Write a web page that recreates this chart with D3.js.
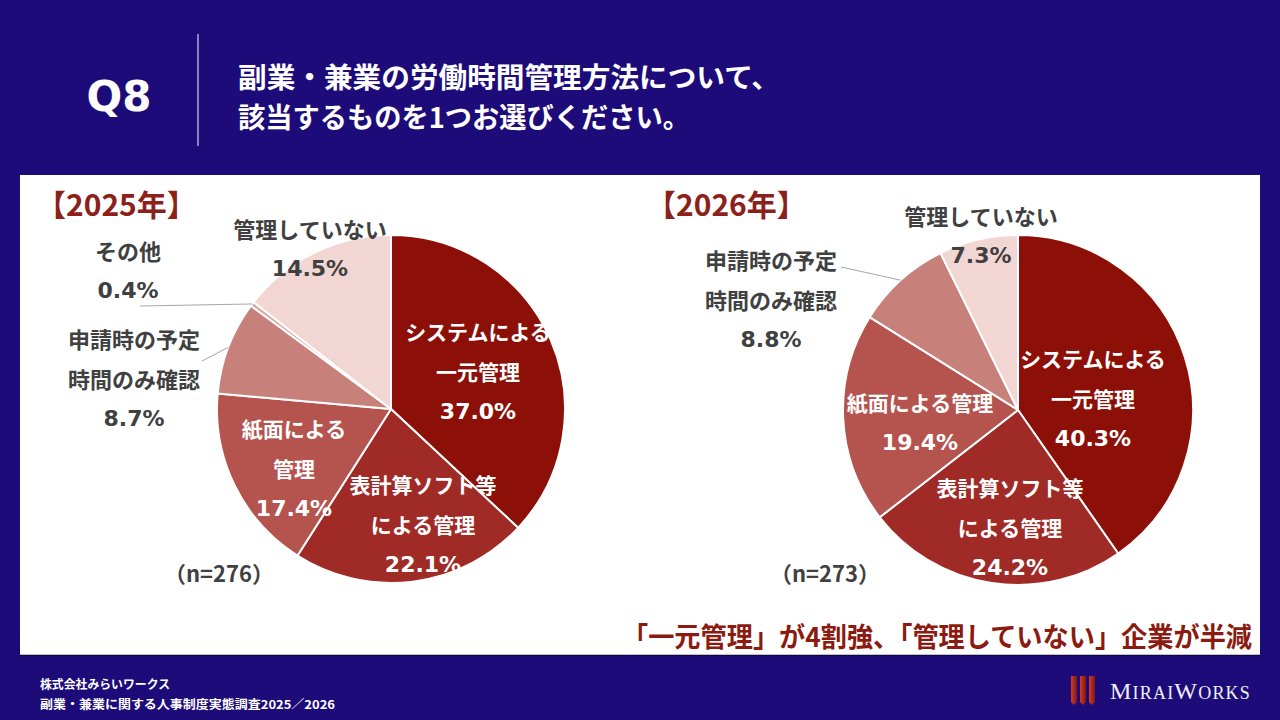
<!DOCTYPE html>
<html lang="ja">
<head>
<meta charset="utf-8">
<script src="https://cdn.jsdelivr.net/npm/d3@7"></script>
<style>
  html, body { margin: 0; padding: 0; background: #1d0b79; }
  svg { display: block; font-family: "Noto Sans CJK JP", "Noto Sans", sans-serif; }
</style>
</head>
<body>
<svg id="chart" width="1280" height="720"></svg>
<script>
// --- data ---
var categories2025 = ["システムによる一元管理", "表計算ソフト等による管理", "紙面による管理",
                      "申請時の予定時間のみ確認", "その他", "管理していない"];
var values2025 = [37.0, 22.1, 17.4, 8.7, 0.4, 14.5];

var categories2026 = ["システムによる一元管理", "表計算ソフト等による管理", "紙面による管理",
                      "申請時の予定時間のみ確認", "管理していない"];
var values2026 = [40.3, 24.2, 19.4, 8.8, 7.3];

var sampleSizes = ["(n=276)", "(n=273)"];
var years = ["【2025年】", "【2026年】"];

// label text, split in lines as on the slide
var labelLines2025 = [["システムによる", "一元管理"], ["表計算ソフト等", "による管理"], ["紙面による", "管理"],
                      ["申請時の予定", "時間のみ確認"], ["その他"], ["管理していない"]];
var labelLines2026 = [["システムによる", "一元管理"], ["表計算ソフト等", "による管理"], ["紙面による管理"],
                      ["申請時の予定", "時間のみ確認"], ["管理していない"]];

var sliceColors = {
  "システムによる一元管理": "#8c1007",
  "表計算ソフト等による管理": "#a02a26",
  "紙面による管理": "#b5544f",
  "申請時の予定時間のみ確認": "#c8807b",
  "その他": "#d8a5a2",
  "管理していない": "#f1d6d4"
};

// label placement relative to pie centre (first line centre), leader line ends
var layout2025 = {
  "システムによる一元管理": { dx: 87, dy: -78, inside: true },
  "表計算ソフト等による管理": { dx: 32, dy: 75, inside: true },
  "紙面による管理": { dx: -97, dy: 19, inside: true },
  "申請時の予定時間のみ確認": { dx: -257, dy: -71, lead: [-189, -48] },
  "その他": { dx: -263, dy: -159, lead: [-251, -103] },
  "管理していない": { dx: -81, dy: -181 }
};
var layout2026 = {
  "システムによる一元管理": { dx: 75, dy: -52, inside: true },
  "表計算ソフト等による管理": { dx: -8, dy: 77, inside: true },
  "紙面による管理": { dx: -98, dy: -8, inside: true },
  "申請時の予定時間のみ確認": { dx: -247, dy: -151, lead: [-177, -143] },
  "管理していない": { dx: -37, dy: -195 }
};

var svg = d3.select("#chart");
var W = 1280, H = 720;
var numFont = "'DejaVu Sans', 'Noto Sans CJK JP', sans-serif";

svg.append("rect").attr("width", W).attr("height", H).attr("fill", "#1d0b79");

// header
svg.append("text").attr("x", 119).attr("y", 96)
  .attr("text-anchor", "middle").attr("dominant-baseline", "central")
  .attr("fill", "#fff").attr("font-size", 42).attr("font-weight", 700)
  .attr("font-family", numFont)
  .text("Q8");
svg.append("line").attr("x1", 198).attr("x2", 198).attr("y1", 34).attr("y2", 146)
  .attr("stroke", "#8a80c4").attr("stroke-width", 2);
var title = ["副業・兼業の労働時間管理方法について、", "該当するものを1つお選びください。"];
var titleWidths = [542, 452];
svg.selectAll(".title").data(title).enter().append("text")
  .attr("class", "title")
  .attr("x", 238).attr("y", function(d, i) { return 76 + i * 40; })
  .attr("dominant-baseline", "central")
  .attr("fill", "#fff").attr("font-size", 28).attr("font-weight", 700)
  .attr("textLength", function(d, i) { return titleWidths[i]; })
  .attr("lengthAdjust", "spacingAndGlyphs")
  .text(function(d) { return d; });

// white panel
svg.append("rect").attr("x", 20).attr("y", 175).attr("width", 1240).attr("height", 480)
  .attr("fill", "#fff");
svg.append("line").attr("x1", 20).attr("x2", 1260).attr("y1", 655.5).attr("y2", 655.5)
  .attr("stroke", "#0d0640").attr("stroke-width", 1.5);

function drawPie(cx, cy, r, cats, vals, lines, layout, year, yearX, nText, nX) {
  var g = svg.append("g").attr("transform", "translate(" + cx + "," + cy + ")");
  var data = cats.map(function(c, i) { return { cat: c, value: vals[i], lines: lines[i] }; });
  var pie = d3.pie().sort(null).value(function(d) { return d.value; });
  var arc = d3.arc().innerRadius(0).outerRadius(r);
  var edge = d3.arc().innerRadius(r).outerRadius(r);
  var arcs = pie(data);

  g.selectAll("path.slice").data(arcs).enter().append("path")
    .attr("class", "slice")
    .attr("d", arc)
    .attr("fill", function(d) { return sliceColors[d.data.cat]; })
    .attr("stroke", "#fff").attr("stroke-width", 2).attr("stroke-linejoin", "round");

  // leader lines
  g.selectAll("line.lead").data(arcs.filter(function(d) { return layout[d.data.cat].lead; }))
    .enter().append("line")
    .attr("class", "lead")
    .attr("x1", function(d) { return edge.centroid(d)[0]; })
    .attr("y1", function(d) { return edge.centroid(d)[1]; })
    .attr("x2", function(d) { return layout[d.data.cat].lead[0]; })
    .attr("y2", function(d) { return layout[d.data.cat].lead[1]; })
    .attr("stroke", "#a6a6a6").attr("stroke-width", 1);

  var lbl = g.selectAll("g.lbl").data(arcs).enter().append("g")
    .attr("class", "lbl")
    .attr("transform", function(d) {
      var p = layout[d.data.cat];
      return "translate(" + p.dx + "," + p.dy + ")";
    });
  lbl.each(function(d) {
    var p = layout[d.data.cat];
    var rows = d.data.lines.concat([d3.format(".1f")(d.data.value) + "%"]);
    var last = rows.length - 1;
    d3.select(this).selectAll("text").data(rows).enter().append("text")
      .attr("x", 0).attr("y", function(t, i) { return i * 40; })
      .attr("text-anchor", "middle").attr("dominant-baseline", "central")
      .attr("fill", p.inside ? "#fff" : "#404040")
      .attr("font-family", function(t, i) { return i === last ? numFont : null; })
      .attr("font-size", function(t, i) { return i === last ? 22 : (p.inside ? 21 : 22); })
      .attr("font-weight", 700)
      .text(function(t) { return t; });
  });

  svg.append("text").attr("x", yearX).attr("y", 203)
    .attr("dominant-baseline", "central")
    .attr("fill", "#8b2119").attr("font-size", 30).attr("font-weight", 700)
    .text(year);
  svg.append("text").attr("x", nX).attr("y", 572)
    .attr("text-anchor", "middle").attr("dominant-baseline", "central")
    .attr("fill", "#404040").attr("font-size", 22).attr("font-weight", 700)
    .text(nText.replace("(", "（").replace(")", "）"));
}

drawPie(391, 409, 174, categories2025, values2025, labelLines2025, layout2025, years[0], 36, sampleSizes[0], 219);
drawPie(1018, 410, 175, categories2026, values2026, labelLines2026, layout2026, years[1], 646, sampleSizes[1], 825);

// conclusion
svg.append("text").attr("x", 1252).attr("y", 635)
  .attr("text-anchor", "end").attr("dominant-baseline", "central")
  .attr("fill", "#8b1a10").attr("font-size", 27).attr("font-weight", 700)
  .attr("textLength", 630).attr("lengthAdjust", "spacingAndGlyphs")
  .text("「一元管理」が4割強、「管理していない」企業が半減");

// footer
var footer = ["株式会社みらいワークス", "副業・兼業に関する人事制度実態調査2025／2026"];
var footerWidths = [130, 295];
svg.selectAll(".foot").data(footer).enter().append("text")
  .attr("class", "foot")
  .attr("x", 40).attr("y", function(d, i) { return 683 + i * 20; })
  .attr("dominant-baseline", "central")
  .attr("fill", "#fff").attr("font-size", 12).attr("font-weight", 700)
  .attr("textLength", function(d, i) { return footerWidths[i]; })
  .attr("lengthAdjust", "spacingAndGlyphs")
  .text(function(d) { return d; });

// logo
var logo = svg.append("g").attr("transform", "translate(1071,676)");
var grad = svg.append("defs").append("linearGradient").attr("id", "stripe")
  .attr("x1", 0).attr("x2", 1).attr("y1", 0).attr("y2", 0);
grad.append("stop").attr("offset", "0%").attr("stop-color", "#d23a24");
grad.append("stop").attr("offset", "100%").attr("stop-color", "#7d1a14");
[0, 9, 18].forEach(function(x) {
  logo.append("path")
    .attr("d", "M" + x + ",0 L" + (x + 6) + ",0 L" + (x + 6) + ",26 L" + (x + 3) + ",29 L" + x + ",26 Z")
    .attr("fill", "url(#stripe)");
});
var logoText = svg.append("text").attr("x", 1110).attr("y", 699)
  .attr("fill", "#f0f0f8").attr("font-family", "'Liberation Serif', 'DejaVu Serif', serif")
  .attr("letter-spacing", 1.2);
[["M", 24], ["IRAI", 18], ["W", 24], ["ORKS", 18]].forEach(function(p) {
  logoText.append("tspan").attr("font-size", p[1]).text(p[0]);
});
</script>
</body>
</html>
